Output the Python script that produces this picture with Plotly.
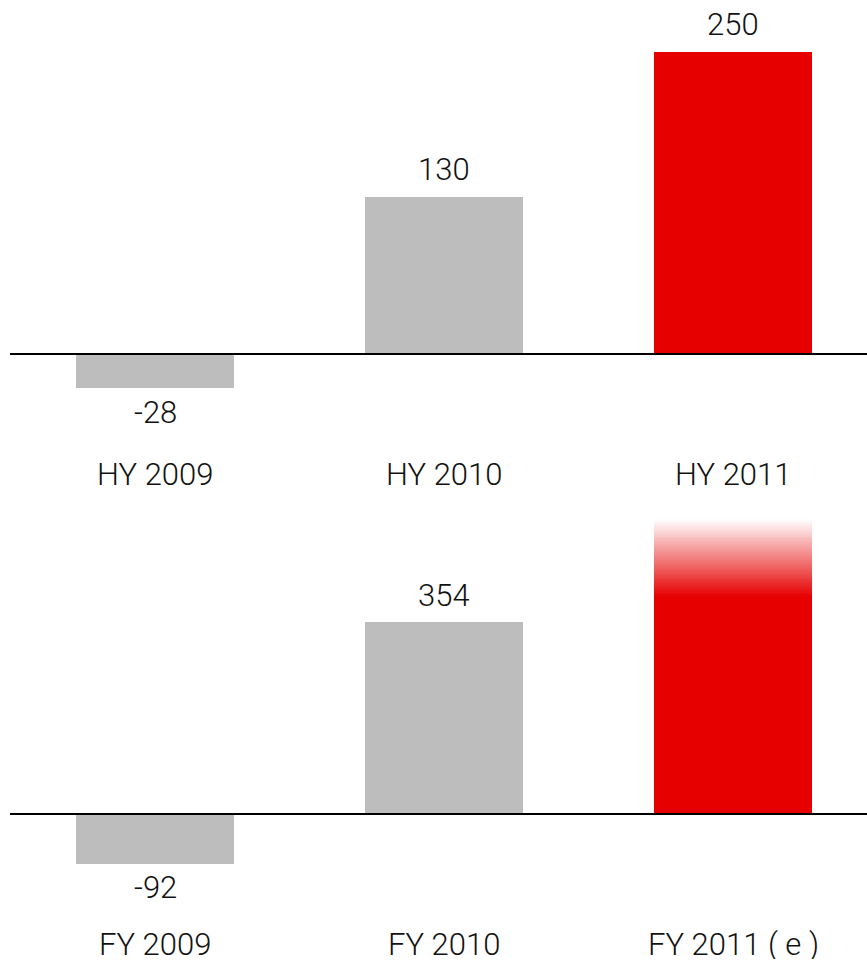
import plotly.graph_objects as go

# ---------------- data ----------------
hy_categories = ["HY 2009", "HY 2010", "HY 2011"]
hy_values = [-28, 130, 250]
hy_colors = ["#BDBDBD", "#BDBDBD", "#E60000"]

fy_categories = ["FY 2009", "FY 2010", "FY 2011 ( e )"]
fy_values = [-92, 354]            # actuals (labelled)
fy_estimate_solid = 400           # solid part of the estimate bar
fy_estimate_top = 544             # faded top of the estimate bar
fy_colors = ["#BDBDBD", "#BDBDBD"]

# ---------------- layout constants ----------------
W, H = 867, 963
ML = 10
FONT = "Roboto, Liberation Sans, Arial, sans-serif"
TXT = "#111111"
FS = 31
FW = 300
RED_RGB = (230, 0, 0)

# top panel: plot area rows 0..440, zero line at 354, 1.21 px/unit
t_top, t_bot, t_zero, t_scale = 0, 440, 354, 1.21
# bottom panel: plot area rows 490..963, zero line at 814, 0.5424 px/unit
b_top, b_bot, b_zero, b_scale = 490, 963, 814, 0.5424

def dom(top, bot):
    return [1 - bot / H, 1 - top / H]

def rng(top, bot, zero, scale):
    return [-(bot - zero) / scale, (zero - top) / scale]

# x range so that slot spacing is ~289 px with first centre at x=155
slot = 289.0
x0 = -(155 - ML) / slot
x_range = [x0, x0 + (W - ML) / slot]
BW = 0.55

fig = go.Figure()

# top panel bars
fig.add_trace(go.Bar(x=hy_categories, y=hy_values, marker=dict(color=hy_colors, line=dict(width=0)),
                     width=BW, xaxis="x", yaxis="y", showlegend=False, hoverinfo="skip"))

# bottom panel actual bars
fig.add_trace(go.Bar(x=fy_categories[:2], y=fy_values, marker=dict(color=fy_colors, line=dict(width=0)),
                     width=BW, xaxis="x2", yaxis="y2", showlegend=False, hoverinfo="skip"))

# estimate bar: solid base
est_cat = fy_categories[2]
fig.add_trace(go.Bar(x=[est_cat], y=[fy_estimate_solid], marker=dict(color="rgb(%d,%d,%d)" % RED_RGB, line=dict(width=0)),
                     width=BW, xaxis="x2", yaxis="y2", showlegend=False, hoverinfo="skip"))
# estimate bar: fading top made of thin slices
n = 40
h = (fy_estimate_top - fy_estimate_solid) / n
for i in range(n):
    a = 1 - (i + 0.5) / n
    fig.add_trace(go.Bar(x=[est_cat], y=[h], base=[fy_estimate_solid + i * h],
                         marker=dict(color="rgba(%d,%d,%d,%.3f)" % (*RED_RGB, a), line=dict(width=0)),
                         width=BW, xaxis="x2", yaxis="y2", showlegend=False, hoverinfo="skip"))

fnt = dict(size=FS, color=TXT, family=FONT, weight=FW)
annotations = []
# value labels
for c, v in zip(hy_categories, hy_values):
    annotations.append(dict(x=c, y=v, xref="x", yref="y", text=str(v), showarrow=False,
                            yanchor="middle", yshift=28 if v >= 0 else -24, height=32,
                            font=fnt))
for c, v in zip(fy_categories[:2], fy_values):
    annotations.append(dict(x=c, y=v, xref="x2", yref="y2", text=str(v), showarrow=False,
                            yanchor="middle", yshift=27 if v >= 0 else -23, height=32,
                            font=fnt))
# category labels
for c in hy_categories:
    annotations.append(dict(x=c, y=1 - 473.5 / H, xref="x", yref="paper", text=c, showarrow=False,
                            yanchor="middle", height=30, font=fnt))
for c in fy_categories:
    annotations.append(dict(x=c, y=1 - 943.5 / H, xref="x2", yref="paper", text=c, showarrow=False,
                            yanchor="middle", height=30, font=fnt))

shapes = [
    dict(type="line", xref="x domain", x0=0, x1=1, yref="y", y0=0, y1=0,
         line=dict(color="black", width=2), layer="above"),
    dict(type="line", xref="x2 domain", x0=0, x1=1, yref="y2", y0=0, y1=0,
         line=dict(color="black", width=2), layer="above"),
]

axis_common = dict(showgrid=False, zeroline=False, showline=False, showticklabels=False, ticks="")

fig.update_layout(
    width=W, height=H,
    margin=dict(l=ML, r=0, t=0, b=0),
    paper_bgcolor="white", plot_bgcolor="white",
    barmode="overlay", bargap=0,
    font=dict(family=FONT, size=FS, color=TXT),
    xaxis=dict(type="category", categoryorder="array", categoryarray=hy_categories,
               range=x_range, anchor="y", domain=[0, 1], **axis_common),
    yaxis=dict(domain=dom(t_top, t_bot), range=rng(t_top, t_bot, t_zero, t_scale), anchor="x", **axis_common),
    xaxis2=dict(type="category", categoryorder="array", categoryarray=fy_categories,
                range=x_range, anchor="y2", domain=[0, 1], **axis_common),
    yaxis2=dict(domain=dom(b_top, b_bot), range=rng(b_top, b_bot, b_zero, b_scale), anchor="x2", **axis_common),
    annotations=annotations,
    shapes=shapes,
)

fig.write_html("out.html")
